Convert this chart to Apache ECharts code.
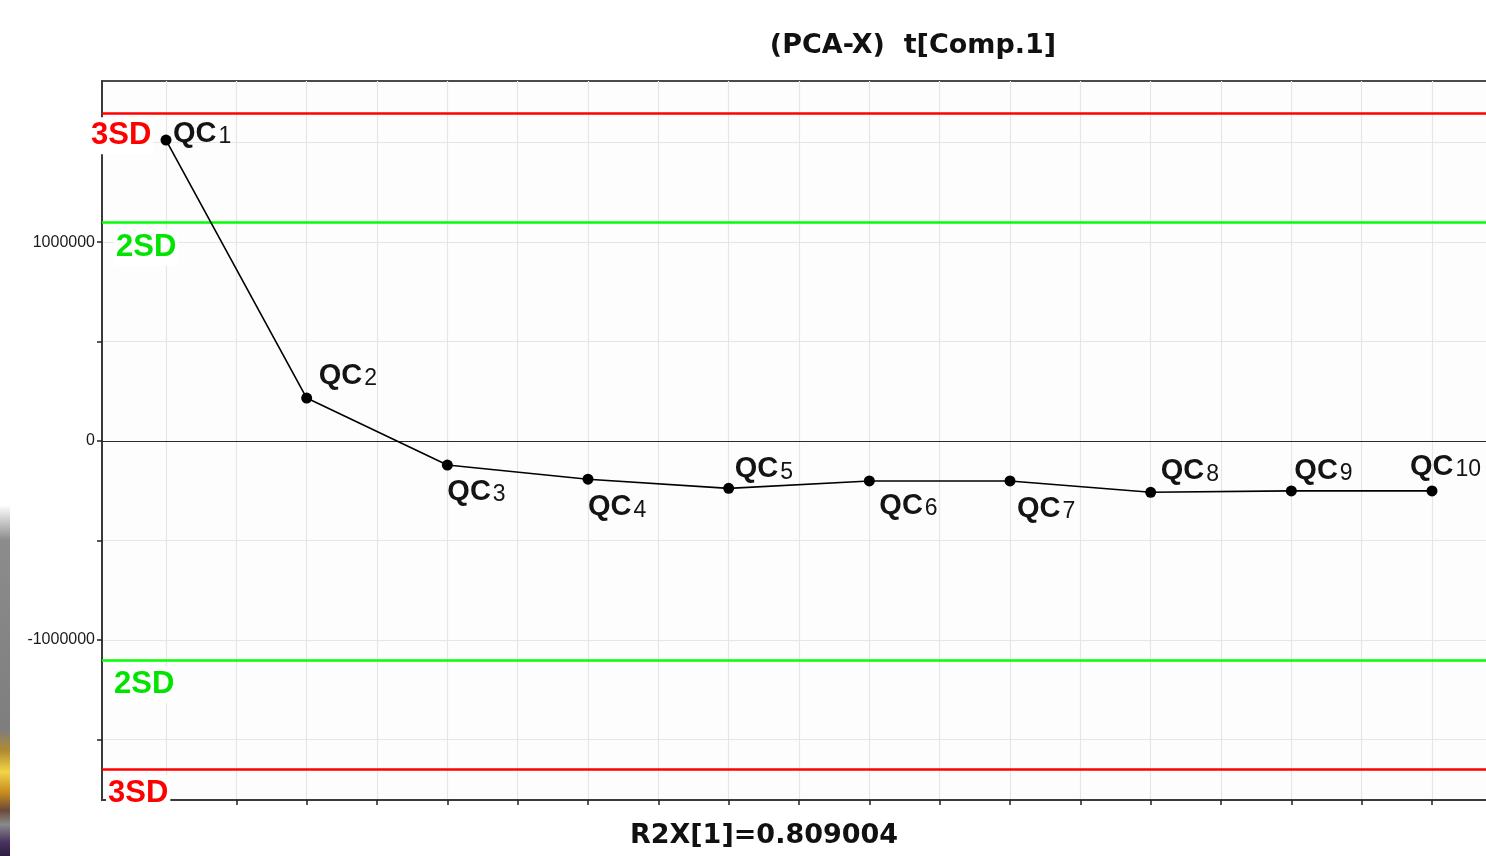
<!DOCTYPE html>
<html>
<head>
<meta charset="utf-8">
<title>(PCA-X) t[Comp.1]</title>
<script src="https://cdn.jsdelivr.net/npm/echarts@6/dist/echarts.min.js"></script>
<style>
  html, body { margin: 0; padding: 0; background: #ffffff; }
  #chart { width: 1486px; height: 856px; }
</style>
</head>
<body>
<div id="chart"></div>
<script>
// QC sample order and their scores on the first principal component
const sampleIndex = [1, 2, 3, 4, 5, 6, 7, 8, 9, 10];
const sampleNames = ['QC1', 'QC2', 'QC3', 'QC4', 'QC5', 'QC6', 'QC7', 'QC8', 'QC9', 'QC10'];
const tScores = [1513000, 216000, -121000, -192000, -238000, -201000, -201000, -258000, -251000, -251000];

// control limits (±2SD, ±3SD)
const limit2SD = 1100000;
const limit3SD = 1650000;

// axis ticks
const xTickValues = [1, 1.5, 2, 2.5, 3, 3.5, 4, 4.5, 5, 5.5, 6, 6.5, 7, 7.5, 8, 8.5, 9, 9.5, 10];
const yTickValues = [-1500000, -1000000, -500000, 0, 500000, 1000000, 1500000];
const yLabelValues = [-1000000, 0, 1000000];

const titleText = '(PCA-X)  t[Comp.1]';
const footerText = 'R2X[1]=0.809004';

// label placement around each point: [dx, dy] from the marker centre
const labelShift = [
  [7, -6], [12, -22], [0, 27], [0, 28], [6, -19],
  [10, 25], [7, 28], [10, -21], [3, -20], [-22, -24]
];

const FONT = '"Liberation Sans", Arial, Helvetica, sans-serif';
const WIDE_FONT = '"DejaVu Sans", Verdana, sans-serif';
const RED = '#ff0000';
const GREEN = '#00ff00';
const GREEN_TEXT = '#00e400';

const chart = echarts.init(document.getElementById('chart'), null, { renderer: 'canvas' });

const seriesData = sampleIndex.map((x, i) => ({
  value: [x, tScores[i]],
  name: sampleNames[i],
  label: {
    offset: labelShift[i],
    formatter: '{q|QC}{n|' + sampleNames[i].slice(2) + '}'
  }
}));

function limitLine(v, color) {
  return {
    yAxis: v,
    lineStyle: { color: color, width: 2.5, type: 'solid' },
    label: { show: false }
  };
}

const option = {
  animation: false,
  backgroundColor: '#ffffff',
  textStyle: { fontFamily: FONT },
  grid: {
    left: 102, top: 81, width: 1394, height: 719,
    outerBoundsMode: 'none',
    containLabel: false,
    show: true,
    backgroundColor: '#fdfdfd',
    borderColor: '#4a4a4a',
    borderWidth: 2
  },
  xAxis: {
    type: 'value',
    min: 0.545,
    max: 10.455,
    axisLine: { show: true, onZero: false, lineStyle: { color: '#3a3a3a', width: 2 } },
    axisTick: { show: true, customValues: xTickValues, length: 5, lineStyle: { color: '#222', width: 1.5 } },
    axisLabel: { show: false },
    splitLine: { show: true, lineStyle: { color: '#e6e6e6', width: 1.2 } }
  },
  yAxis: {
    type: 'value',
    min: -1805000,
    max: 1810000,
    axisLine: { show: true, lineStyle: { color: '#3a3a3a', width: 2 } },
    axisTick: { show: true, customValues: yTickValues, length: 5, lineStyle: { color: '#222', width: 1.5 } },
    axisLabel: {
      show: true,
      customValues: yLabelValues,
      formatter: v => String(v),
      color: '#1a1a1a',
      fontSize: 16,
      fontFamily: FONT,
      margin: 7
    },
    splitLine: { show: true, lineStyle: { color: '#e6e6e6', width: 1.2 } }
  },
  series: [
    {
      type: 'line',
      data: seriesData,
      symbol: 'circle',
      symbolSize: 11,
      itemStyle: { color: '#000000' },
      lineStyle: { color: '#000000', width: 1.6 },
      z: 5,
      label: {
        show: true,
        position: 'inside',
        align: 'left',
        verticalAlign: 'middle',
        rich: {
          q: { fontSize: 29, fontWeight: 600, color: '#141414', fontFamily: FONT },
          n: { fontSize: 23, color: '#141414', fontFamily: FONT, padding: [0, 0, 0, 2], verticalAlign: 'bottom' }
        }
      },
      markLine: {
        silent: true,
        symbol: ['none', 'none'],
        animation: false,
        data: [
          { yAxis: 0, lineStyle: { color: '#2a2a2a', width: 1.2, type: 'solid' }, label: { show: false } },
          limitLine(limit3SD, RED),
          limitLine(-limit3SD, RED),
          limitLine(limit2SD, GREEN),
          limitLine(-limit2SD, GREEN)
        ]
      }
    }
  ]
};

chart.setOption(option);

// text annotations placed from the axis scales
function yPix(v) { return chart.convertToPixel({ yAxisIndex: 0 }, v); }
const gridLeft = 102;

function sdLabel(text, color, value, dx, dy) {
  return {
    type: 'text',
    z: 100,
    x: gridLeft + dx,
    y: yPix(value) + dy,
    style: {
      text: text,
      fill: color,
      font: 'bold 31px ' + FONT,
      verticalAlign: 'middle',
      align: 'left',
      backgroundColor: '#ffffff',
      padding: [3, 2, 3, 2]
    }
  };
}

chart.setOption({
  graphic: [
    sdLabel('3SD', RED, limit3SD, -13, 23),
    sdLabel('2SD', GREEN_TEXT, limit2SD, 12, 25),
    sdLabel('2SD', GREEN_TEXT, -limit2SD, 10, 25),
    sdLabel('3SD', RED, -limit3SD, 4, 24),
    {
      type: 'text', z: 100, x: 913, y: 46,
      style: { text: titleText, fill: '#111111', font: 'bold 27px ' + WIDE_FONT, align: 'center', verticalAlign: 'middle' }
    },
    {
      type: 'text', z: 100, x: 764, y: 836,
      style: { text: footerText, fill: '#111111', font: 'bold 27px ' + WIDE_FONT, align: 'center', verticalAlign: 'middle' }
    },
    {
      // strip of a background picture showing at the lower-left edge
      type: 'rect', z: 0, silent: true,
      shape: { x: 0, y: 505, width: 10, height: 351 },
      style: {
        fill: new echarts.graphic.LinearGradient(0, 0, 0, 1, [
          { offset: 0, color: '#ffffff' },
          { offset: 0.1, color: '#8c8c8c' },
          { offset: 0.64, color: '#7e7e7e' },
          { offset: 0.7, color: '#b08a30' },
          { offset: 0.76, color: '#f2d448' },
          { offset: 0.82, color: '#c88a20' },
          { offset: 0.87, color: '#6a4a38' },
          { offset: 0.91, color: '#8a8a8a' },
          { offset: 0.96, color: '#4a3460' },
          { offset: 1, color: '#2c1e40' }
        ])
      }
    }
  ]
});
</script>
</body>
</html>
